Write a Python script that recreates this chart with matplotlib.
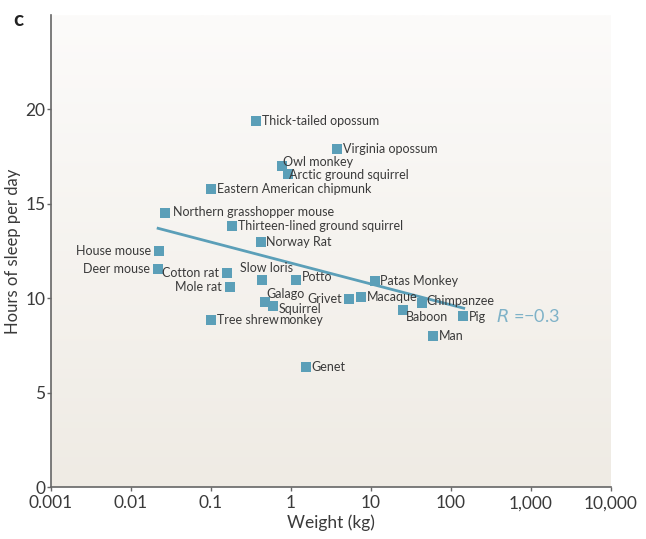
import numpy as np
import matplotlib
matplotlib.use('Agg')
import matplotlib.pyplot as plt
from matplotlib.colors import LinearSegmentedColormap

# Data (weight in kg, hours of sleep per day)
animals = ['Thick-tailed opossum', 'Virginia opossum', 'Owl monkey', 'Arctic ground squirrel',
           'Eastern American chipmunk', 'Northern grasshopper mouse', 'Thirteen-lined ground squirrel',
           'Norway Rat', 'House mouse', 'Deer mouse', 'Cotton rat', 'Mole rat', 'Slow loris',
           'Potto', 'Patas Monkey', 'Galago', 'Squirrel\nmonkey', 'Grivet', 'Macaque',
           'Chimpanzee', 'Baboon', 'Pig', 'Man', 'Tree shrew', 'Genet']
weight = [0.365, 3.76, 0.77, 0.92, 0.10, 0.0266, 0.183, 0.42, 0.0224, 0.022, 0.158, 0.173,
          0.434, 1.15, 11.2, 0.47, 0.60, 5.3, 7.5, 43.4, 25.1, 141, 59.6, 0.10, 1.54]
sleep = [19.4, 17.9, 17.0, 16.6, 15.8, 14.5, 13.8, 13.0, 12.5, 11.55, 11.35, 10.6, 10.98,
         10.98, 10.92, 9.82, 9.6, 9.97, 10.08, 9.76, 9.39, 9.08, 8.02, 8.87, 6.33]

# label placement: offset in points and alignment
label_pos = {
    'House mouse': ((-6, 0), 'right', 'center'),
    'Deer mouse': ((-6, 0), 'right', 'center'),
    'Cotton rat': ((-6, 0), 'right', 'center'),
    'Mole rat': ((-6, 0), 'right', 'center'),
    'Grivet': ((-5, 0), 'right', 'center'),
    'Slow loris': ((3, 4), 'center', 'bottom'),
    'Galago': ((1, 1), 'left', 'bottom'),
    'Squirrel\nmonkey': ((4, 2), 'left', 'top'),
    'Chimpanzee': ((3, 1), 'left', 'center'),
    'Baboon': ((2, -1), 'left', 'top'),
    'Northern grasshopper mouse': ((6, 1), 'left', 'center'),
    'Owl monkey': ((1, 3), 'left', 'center'),
    'Arctic ground squirrel': ((1, -1), 'left', 'center'),
    'Potto': ((4, 2), 'left', 'center'),
    'Pig': ((4, -1), 'left', 'center'),
}

fit_x = [0.021, 150]
fit_y = [13.72, 9.45]
r_value = -0.3

xticks = [0.001, 0.01, 0.1, 1, 10, 100, 1000, 10000]
xticklabels = ['0.001', '0.01', '0.1', '1', '10', '100', '1,000', '10,000']
yticks = [0, 5, 10, 15, 20]

BLUE = '#5b9fb8'
TEXT = '#3a3a3a'

plt.rcParams['font.family'] = ['Lato', 'DejaVu Sans']

fig = plt.figure(figsize=(6.46, 5.39), dpi=100, facecolor='white')
ax = fig.add_axes([51 / 646, 52 / 539, 560 / 646, 472 / 539])
ax.set_facecolor('none')

# soft vertical gradient behind the plot
cmap = LinearSegmentedColormap.from_list('bg', ['#efebe4', '#fcfbfa'])
grad = np.linspace(0, 1, 256).reshape(-1, 1)
ax.imshow(grad, extent=[0, 1, 0, 1], transform=ax.transAxes, cmap=cmap,
          aspect='auto', origin='lower', zorder=0)

ax.set_xscale('log')
ax.set_xlim(0.001, 10000)
ax.set_ylim(0, 25)

ax.plot(fit_x, fit_y, color=BLUE, lw=2, zorder=2, solid_capstyle='butt')
ax.scatter(weight, sleep, marker='s', s=42, color=BLUE, zorder=3, linewidths=0)

for name, x, y in zip(animals, weight, sleep):
    (dx, dy), ha, va = label_pos.get(name, ((4, 0), 'left', 'center'))
    ax.annotate(name, (x, y), xytext=(dx, dy), textcoords='offset points',
                ha=ha, va=va, fontsize=9, color=TEXT, linespacing=0.95, zorder=4)

ax.annotate(f'$R$ =\u2212{abs(r_value)}', (150, 9.05), xytext=(22, 0),
            textcoords='offset points', ha='left', va='center', fontsize=13,
            color='#7fb2c8', annotation_clip=False)

for s in ['top', 'right']:
    ax.spines[s].set_visible(False)
for s in ['left', 'bottom']:
    ax.spines[s].set_color('#666666')
    ax.spines[s].set_linewidth(1.2)

ax.set_xticks(xticks)
ax.set_xticklabels(xticklabels)
ax.xaxis.set_minor_locator(matplotlib.ticker.NullLocator())
ax.set_yticks(yticks)
ax.tick_params(axis='both', length=3, width=1, color='#666666', labelcolor=TEXT,
               labelsize=12.5, pad=1)
ax.tick_params(axis='x', pad=3)

ax.set_xlabel('Weight (kg)', fontsize=12.5, color=TEXT, labelpad=2)
ax.set_ylabel('Hours of sleep per day', fontsize=12, color=TEXT, labelpad=3)

fig.text(13 / 646, 1 - 20 / 539, 'c', fontsize=15, fontweight='bold', color='#222222',
         va='center')

fig.savefig('out.png', dpi=100, facecolor='white')
